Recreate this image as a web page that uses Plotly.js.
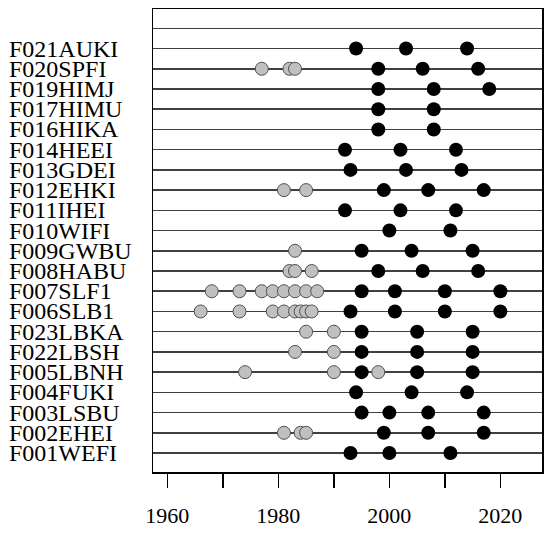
<!DOCTYPE html>
<html>
<head>
<meta charset="utf-8">
<script src="https://cdn.plot.ly/plotly-3.0.1.min.js"></script>
<style>html,body{margin:0;padding:0;background:#fff;}#chart{width:550px;height:534px;}</style>
</head>
<body>
<div id="chart"></div>
<script>
// Categories from bottom (position 1) to top (position 21); position 22 is an empty row
var categories = ["F001WEFI","F002EHEI","F003LSBU","F004FUKI","F005LBNH","F022LBSH","F023LBKA",
  "F006SLB1","F007SLF1","F008HABU","F009GWBU","F010WIFI","F011IHEI","F012EHKI","F013GDEI",
  "F014HEEI","F016HIKA","F017HIMU","F019HIMJ","F020SPFI","F021AUKI"];

var greyYears = [
  [],                                        // F001WEFI
  [1981, 1984, 1985],                        // F002EHEI
  [],                                        // F003LSBU
  [],                                        // F004FUKI
  [1974, 1990, 1998],                        // F005LBNH
  [1983, 1990],                              // F022LBSH
  [1985, 1990],                              // F023LBKA
  [1966, 1973, 1979, 1981, 1983, 1984, 1985, 1986], // F006SLB1
  [1968, 1973, 1977, 1979, 1981, 1983, 1985, 1987], // F007SLF1
  [1982, 1983, 1986],                        // F008HABU
  [1983],                                    // F009GWBU
  [],                                        // F010WIFI
  [],                                        // F011IHEI
  [1981, 1985],                              // F012EHKI
  [],                                        // F013GDEI
  [],                                        // F014HEEI
  [],                                        // F016HIKA
  [],                                        // F017HIMU
  [],                                        // F019HIMJ
  [1977, 1982, 1983],                        // F020SPFI
  []                                         // F021AUKI
];

var blackYears = [
  [1993, 2000, 2011],        // F001WEFI
  [1999, 2007, 2017],        // F002EHEI
  [1995, 2000, 2007, 2017],  // F003LSBU
  [1994, 2004, 2014],        // F004FUKI
  [1995, 2005, 2015],        // F005LBNH
  [1995, 2005, 2015],        // F022LBSH
  [1995, 2005, 2015],        // F023LBKA
  [1993, 2001, 2010, 2020],  // F006SLB1
  [1995, 2001, 2010, 2020],  // F007SLF1
  [1998, 2006, 2016],        // F008HABU
  [1995, 2004, 2015],        // F009GWBU
  [2000, 2011],              // F010WIFI
  [1992, 2002, 2012],        // F011IHEI
  [1999, 2007, 2017],        // F012EHKI
  [1993, 2003, 2013],        // F013GDEI
  [1992, 2002, 2012],        // F014HEEI
  [1998, 2008],              // F016HIKA
  [1998, 2008],              // F017HIMU
  [1998, 2008, 2018],        // F019HIMJ
  [1998, 2006, 2016],        // F020SPFI
  [1994, 2003, 2014]         // F021AUKI
];

var xTicks = [1960, 1970, 1980, 1990, 2000, 2010, 2020];
var xTickLabels = ["1960", "", "1980", "", "2000", "", "2020"];

function flatten(groups) {
  var xs = [], ys = [];
  groups.forEach(function (g, i) {
    g.forEach(function (v) { xs.push(v); ys.push(i + 1); });
  });
  return {x: xs, y: ys};
}
var g = flatten(greyYears), b = flatten(blackYears);

var rowPositions = [];
for (var i = 1; i <= categories.length + 1; i++) rowPositions.push(i);

var traces = [
  {type: "scatter", mode: "markers", x: g.x, y: g.y, hoverinfo: "skip",
   marker: {size: 13, color: "#c0c0c0", line: {color: "#505050", width: 1}}},
  {type: "scatter", mode: "markers", x: b.x, y: b.y, hoverinfo: "skip",
   marker: {size: 14, color: "#000000", line: {color: "#000000", width: 0}}}
];

var annotations = categories.map(function (c, i) {
  return {xref: "paper", yref: "y", x: -0.376, y: i + 1, text: c, showarrow: false,
          xanchor: "left", yanchor: "middle",
          font: {family: "Liberation Serif, Times New Roman, serif", size: 24, color: "#000"}};
});

var layout = {
  width: 550, height: 534,
  margin: {l: 153, r: 8, t: 9, b: 62, pad: 0},
  paper_bgcolor: "#ffffff", plot_bgcolor: "#ffffff",
  showlegend: false,
  xaxis: {range: [1957.41, 2027.5], tickvals: xTicks, ticktext: xTickLabels,
          ticks: "outside", ticklen: 14, tickwidth: 1.5, tickcolor: "#000",
          ticklabelstandoff: 9,
          showgrid: false, zeroline: false,
          showline: true, mirror: true, linecolor: "#000", linewidth: 1.5,
          tickfont: {family: "Liberation Serif, Times New Roman, serif", size: 22, color: "#000"}},
  yaxis: {range: [0.062, 22.956], tickvals: rowPositions, showticklabels: false,
          ticks: "", showgrid: true, gridcolor: "#404040", gridwidth: 1.5,
          zeroline: false, showline: true, mirror: true, linecolor: "#000", linewidth: 1.5},
  annotations: annotations
};

Plotly.newPlot("chart", traces, layout, {staticPlot: true, displayModeBar: false});
</script>
</body>
</html>
